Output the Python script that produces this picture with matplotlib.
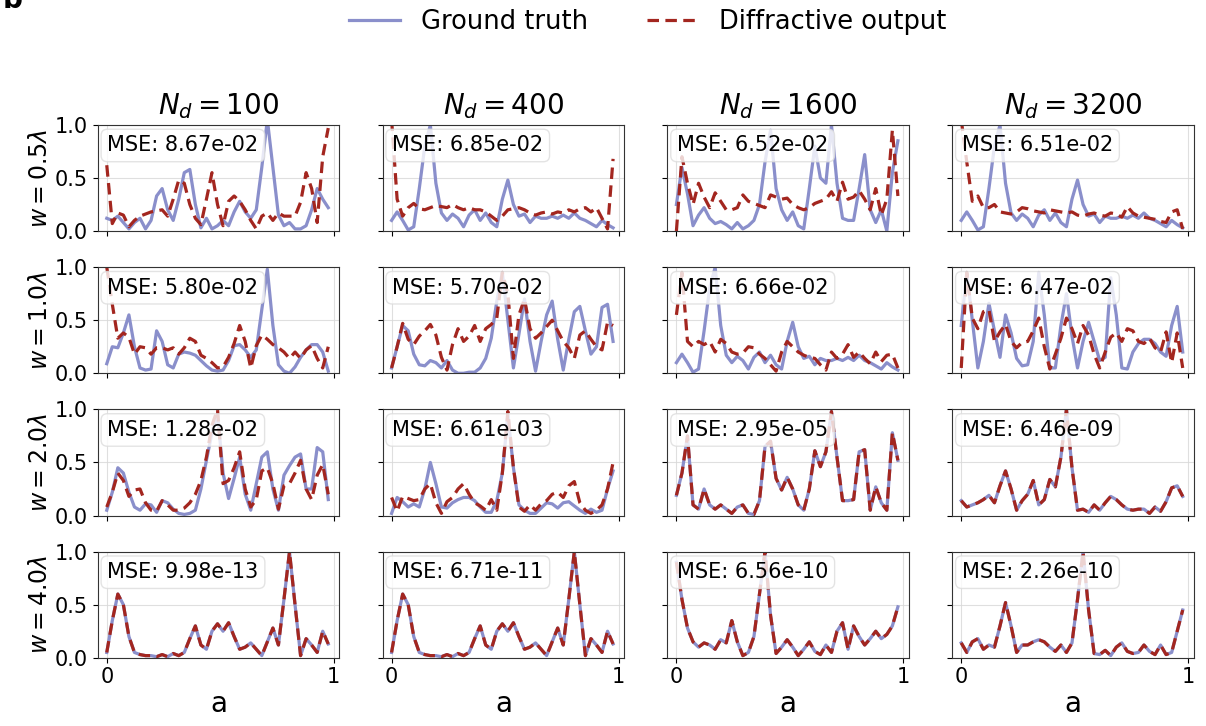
import numpy as np
import matplotlib.pyplot as plt

# position along the aperture (shared by every panel)
a = np.arange(41) / 41

n_d = [100, 400, 1600, 3200]
w_labels = ["0.5", "1.0", "2.0", "4.0"]
mse = [
    ["8.67e-02", "6.85e-02", "6.52e-02", "6.51e-02"],
    ["5.80e-02", "5.70e-02", "6.66e-02", "6.47e-02"],
    ["1.28e-02", "6.61e-03", "2.95e-05", "6.46e-09"],
    ["9.98e-13", "6.71e-11", "6.56e-10", "2.26e-10"],
]

# --- row 1 : w = 0.5 lambda ---
gt_r1c1 = [0.12, 0.10, 0.14, 0.08, 0.02, 0.08, 0.12, 0.02, 0.10, 0.33, 0.40, 0.20, 0.10, 0.30, 0.55, 0.58, 0.25,
           0.03, 0.12, 0.02, 0.05, 0.10, 0.05, 0.18, 0.28, 0.18, 0.12, 0.20, 0.60, 1.05, 0.60, 0.15, 0.05, 0.08,
           0.02, 0.02, 0.05, 0.20, 0.40, 0.30, 0.22]
out_r1c1 = [0.62, 0.07, 0.17, 0.15, 0.04, 0.10, 0.14, 0.16, 0.18, 0.19, 0.20, 0.14, 0.30, 0.48, 0.45, 0.25, 0.12,
            0.06, 0.30, 0.55, 0.25, 0.05, 0.28, 0.33, 0.28, 0.20, 0.10, 0.02, 0.14, 0.17, 0.10, 0.17, 0.14, 0.14,
            0.14, 0.27, 0.55, 0.40, 0.08, 0.70, 0.97]
gt_shared = [0.10, 0.18, 0.10, 0.01, 0.04, 0.40, 0.80, 1.00, 0.45, 0.17, 0.10, 0.16, 0.12, 0.04, 0.15, 0.20, 0.10,
             0.17, 0.08, 0.04, 0.30, 0.48, 0.25, 0.14, 0.16, 0.08, 0.14, 0.12, 0.12, 0.14, 0.12, 0.15, 0.12, 0.17,
             0.12, 0.10, 0.07, 0.04, 0.10, 0.06, 0.03]
out_r1c2 = [1.05, 0.30, 0.14, 0.22, 0.26, 0.21, 0.20, 0.22, 0.24, 0.23, 0.22, 0.25, 0.22, 0.20, 0.22, 0.20, 0.20,
            0.18, 0.14, 0.10, 0.14, 0.20, 0.21, 0.22, 0.20, 0.17, 0.15, 0.17, 0.18, 0.16, 0.18, 0.17, 0.20, 0.18,
            0.21, 0.22, 0.18, 0.22, 0.12, 0.02, 0.68]
gt_r1c3 = [0.25, 0.60, 0.35, 0.05, 0.15, 0.22, 0.12, 0.07, 0.09, 0.06, 0.02, 0.08, 0.02, 0.05, 0.10, 0.25, 0.65,
           0.95, 0.40, 0.20, 0.10, 0.18, 0.05, 0.02, 0.40, 0.80, 0.50, 0.45, 1.00, 0.45, 0.12, 0.10, 0.10, 0.40,
           0.72, 0.20, 0.08, 0.20, 0.00, 0.55, 0.85]
out_r1c3 = [0.00, 0.70, 0.45, 0.25, 0.45, 0.32, 0.22, 0.36, 0.28, 0.20, 0.20, 0.22, 0.34, 0.28, 0.26, 0.24, 0.22,
            0.34, 0.32, 0.30, 0.31, 0.25, 0.22, 0.20, 0.22, 0.26, 0.28, 0.30, 0.37, 0.28, 0.46, 0.30, 0.32, 0.38,
            0.30, 0.20, 0.40, 0.15, 0.30, 0.95, 0.33]
out_r1c4 = [1.05, 0.65, 0.28, 0.33, 0.22, 0.22, 0.25, 0.18, 0.17, 0.16, 0.18, 0.22, 0.21, 0.19, 0.18, 0.17, 0.20,
            0.19, 0.18, 0.17, 0.18, 0.15, 0.14, 0.16, 0.17, 0.15, 0.14, 0.17, 0.16, 0.13, 0.23, 0.17, 0.14, 0.13,
            0.12, 0.11, 0.09, 0.08, 0.18, 0.20, 0.02]

# --- row 2 : w = 1.0 lambda ---
gt_r2c1 = [0.09, 0.25, 0.24, 0.38, 0.55, 0.25, 0.05, 0.03, 0.04, 0.40, 0.30, 0.08, 0.05, 0.18, 0.20, 0.19, 0.17,
           0.12, 0.07, 0.03, 0.02, 0.03, 0.12, 0.26, 0.27, 0.22, 0.15, 0.22, 0.60, 0.98, 0.45, 0.08, 0.02, 0.00,
           0.06, 0.15, 0.22, 0.27, 0.27, 0.20, 0.02]
out_r2c1 = [1.00, 0.65, 0.33, 0.38, 0.34, 0.18, 0.25, 0.24, 0.18, 0.24, 0.24, 0.22, 0.24, 0.18, 0.24, 0.33, 0.30,
            0.17, 0.14, 0.10, 0.05, 0.06, 0.15, 0.28, 0.45, 0.30, 0.05, 0.26, 0.36, 0.32, 0.27, 0.24, 0.20, 0.14,
            0.20, 0.14, 0.22, 0.26, 0.14, 0.05, 0.25]
gt_r2c2 = [0.05, 0.25, 0.45, 0.40, 0.18, 0.08, 0.07, 0.12, 0.10, 0.05, 0.12, 0.03, 0.00, 0.00, 0.01, 0.01, 0.05,
           0.14, 0.33, 0.68, 0.95, 0.50, 0.05, 0.37, 0.70, 0.30, 0.02, 0.30, 0.55, 0.68, 0.32, 0.03, 0.32, 0.58,
           0.63, 0.40, 0.18, 0.25, 0.62, 0.65, 0.30]
out_r2c2 = [0.05, 0.25, 0.47, 0.32, 0.27, 0.35, 0.40, 0.46, 0.36, 0.15, 0.03, 0.27, 0.42, 0.30, 0.35, 0.45, 0.30,
            0.42, 0.46, 0.52, 0.95, 0.75, 0.14, 0.55, 0.70, 0.42, 0.33, 0.38, 0.44, 0.50, 0.40, 0.30, 0.24, 0.14,
            0.36, 0.40, 0.32, 0.25, 0.22, 0.48, 0.45]
out_r2c3 = [0.55, 0.95, 0.30, 0.25, 0.30, 0.27, 0.30, 0.20, 0.32, 0.28, 0.20, 0.18, 0.19, 0.25, 0.24, 0.18, 0.14,
            0.08, 0.02, 0.20, 0.30, 0.25, 0.20, 0.17, 0.15, 0.14, 0.08, 0.03, 0.20, 0.14, 0.18, 0.27, 0.15, 0.20,
            0.14, 0.09, 0.20, 0.11, 0.17, 0.18, 0.05]
gt_r2c4 = [0.45, 0.95, 0.50, 0.05, 0.30, 0.66, 0.40, 0.15, 0.55, 0.38, 0.14, 0.07, 0.08, 0.30, 0.95, 0.55, 0.05,
           0.05, 0.45, 0.75, 0.35, 0.05, 0.30, 0.48, 0.30, 0.12, 0.15, 0.90, 0.55, 0.05, 0.04, 0.20, 0.28, 0.32,
           0.32, 0.28, 0.20, 0.16, 0.45, 0.63, 0.20]
out_r2c4 = [0.05, 0.95, 0.52, 0.42, 0.58, 0.60, 0.30, 0.39, 0.46, 0.30, 0.24, 0.29, 0.30, 0.40, 0.52, 0.25, 0.04,
            0.18, 0.33, 0.52, 0.42, 0.28, 0.45, 0.36, 0.18, 0.05, 0.20, 0.34, 0.38, 0.30, 0.42, 0.40, 0.30, 0.28,
            0.33, 0.24, 0.20, 0.39, 0.10, 0.38, 0.05]

# --- row 3 : w = 2.0 lambda ---
gt_r3c1 = [0.05, 0.22, 0.45, 0.40, 0.22, 0.08, 0.05, 0.11, 0.10, 0.03, 0.14, 0.12, 0.06, 0.02, 0.01, 0.02, 0.05,
           0.25, 0.52, 0.78, 0.96, 0.40, 0.16, 0.35, 0.55, 0.20, 0.05, 0.30, 0.55, 0.60, 0.25, 0.05, 0.38, 0.47,
           0.55, 0.58, 0.25, 0.25, 0.64, 0.60, 0.15]
out_r3c1 = [0.08, 0.22, 0.40, 0.33, 0.18, 0.24, 0.25, 0.12, 0.05, 0.04, 0.14, 0.10, 0.05, 0.05, 0.07, 0.12, 0.20,
            0.33, 0.55, 0.85, 1.00, 0.30, 0.33, 0.45, 0.60, 0.25, 0.08, 0.15, 0.42, 0.45, 0.30, 0.06, 0.28, 0.30,
            0.40, 0.52, 0.25, 0.15, 0.38, 0.48, 0.20]
gt_r3c2 = [0.02, 0.17, 0.13, 0.08, 0.11, 0.08, 0.25, 0.50, 0.30, 0.08, 0.07, 0.12, 0.15, 0.17, 0.17, 0.14, 0.08,
           0.03, 0.03, 0.14, 0.40, 0.95, 0.45, 0.10, 0.05, 0.02, 0.02, 0.07, 0.12, 0.11, 0.07, 0.12, 0.13, 0.09,
           0.05, 0.02, 0.06, 0.03, 0.05, 0.25, 0.42]
out_r3c2 = [0.17, 0.04, 0.18, 0.16, 0.14, 0.15, 0.25, 0.30, 0.12, 0.02, 0.13, 0.17, 0.25, 0.30, 0.20, 0.12, 0.09,
            0.05, 0.15, 0.05, 0.40, 0.98, 0.45, 0.08, 0.04, 0.10, 0.05, 0.11, 0.14, 0.20, 0.22, 0.17, 0.28, 0.32,
            0.12, 0.05, 0.02, 0.05, 0.10, 0.25, 0.50]
gt_r3c3 = [0.19, 0.40, 0.75, 0.10, 0.06, 0.25, 0.10, 0.06, 0.10, 0.06, 0.02, 0.08, 0.10, 0.02, 0.01, 0.14, 0.65,
           0.70, 0.35, 0.24, 0.36, 0.25, 0.10, 0.05, 0.25, 0.61, 0.46, 0.60, 0.98, 0.55, 0.14, 0.14, 0.15, 0.60,
           0.62, 0.05, 0.27, 0.12, 0.05, 0.78, 0.52]
gt_r3c4 = [0.14, 0.08, 0.10, 0.12, 0.15, 0.19, 0.12, 0.28, 0.42, 0.25, 0.05, 0.14, 0.20, 0.33, 0.10, 0.15, 0.34,
           0.27, 0.55, 1.00, 0.45, 0.05, 0.06, 0.03, 0.10, 0.05, 0.12, 0.18, 0.15, 0.10, 0.06, 0.05, 0.06, 0.06,
           0.02, 0.08, 0.04, 0.13, 0.26, 0.28, 0.18]

# --- row 4 : w = 4.0 lambda ---
gt_r4c1 = [0.05, 0.35, 0.60, 0.50, 0.20, 0.05, 0.03, 0.02, 0.02, 0.01, 0.03, 0.01, 0.04, 0.02, 0.05, 0.18, 0.30,
           0.12, 0.08, 0.25, 0.32, 0.25, 0.33, 0.20, 0.08, 0.10, 0.14, 0.08, 0.02, 0.15, 0.28, 0.12, 0.55, 1.00,
           0.50, 0.02, 0.18, 0.12, 0.05, 0.25, 0.13]
gt_r4c3 = [0.90, 0.55, 0.28, 0.15, 0.10, 0.14, 0.12, 0.08, 0.17, 0.14, 0.35, 0.15, 0.02, 0.05, 0.20, 0.60, 1.00,
           0.40, 0.04, 0.10, 0.17, 0.10, 0.02, 0.08, 0.15, 0.06, 0.03, 0.12, 0.05, 0.25, 0.33, 0.08, 0.30, 0.20,
           0.12, 0.18, 0.25, 0.18, 0.22, 0.30, 0.48]
gt_r4c4 = [0.14, 0.05, 0.15, 0.18, 0.08, 0.12, 0.10, 0.30, 0.52, 0.30, 0.05, 0.12, 0.12, 0.15, 0.17, 0.15, 0.10,
           0.06, 0.12, 0.05, 0.14, 0.55, 1.00, 0.45, 0.04, 0.03, 0.07, 0.02, 0.10, 0.14, 0.06, 0.04, 0.05, 0.12,
           0.06, 0.03, 0.12, 0.03, 0.05, 0.25, 0.45]

# (ground truth, diffractive output) per panel; converged panels overlap exactly
panels = [
    [(gt_r1c1, out_r1c1), (gt_shared, out_r1c2), (gt_r1c3, out_r1c3), (gt_shared, out_r1c4)],
    [(gt_r2c1, out_r2c1), (gt_r2c2, out_r2c2), (gt_shared, out_r2c3), (gt_r2c4, out_r2c4)],
    [(gt_r3c1, out_r3c1), (gt_r3c2, out_r3c2), (gt_r3c3, gt_r3c3), (gt_r3c4, gt_r3c4)],
    [(gt_r4c1, gt_r4c1), (gt_r4c1, gt_r4c1), (gt_r4c3, gt_r4c3), (gt_r4c4, gt_r4c4)],
]

gt_color = "#8a8fcb"
out_color = "#a3261f"

fig, axes = plt.subplots(4, 4, figsize=(12.06, 7.26), dpi=100, sharex=True, sharey=True)
fig.subplots_adjust(left=0.081, right=0.99, top=0.828, bottom=0.094, wspace=0.178, hspace=0.34)

for r in range(4):
    for c in range(4):
        ax = axes[r, c]
        gt, out = panels[r][c]
        ax.plot(a, gt, color=gt_color, lw=2.3, label="Ground truth")
        ax.plot(a, out, color=out_color, lw=2.3, ls=(0, (3.6, 2.0)), label="Diffractive output")
        ax.set_xlim(-0.04, 1.025)
        ax.set_ylim(0, 1)
        ax.set_xticks([0, 1])
        ax.set_yticks([0, 0.5, 1.0])
        ax.grid(True, color="#d8d8d8", lw=0.8, alpha=0.8)
        ax.tick_params(labelsize=15)
        for s in ax.spines.values():
            s.set_color("#333333")
        ax.text(0.04, 0.9, "MSE: " + mse[r][c], transform=ax.transAxes, fontsize=15,
                va="top", ha="left",
                bbox=dict(boxstyle="round,pad=0.3", facecolor="white", edgecolor="#dddddd", alpha=0.8))
        if r == 0:
            ax.set_title(r"$N_d = %d$" % n_d[c], fontsize=20, pad=8)
        if c == 0:
            ax.set_ylabel(r"$w = %s\lambda$" % w_labels[r], fontsize=17, labelpad=2)
        if r == 3:
            ax.set_xlabel("a", fontsize=20, labelpad=2)

handles, labels = axes[0, 0].get_legend_handles_labels()
fig.legend(handles, labels, loc="upper center", ncol=2, frameon=False, fontsize=18.5,
           bbox_to_anchor=(0.537, 1.02), handlelength=2.0, columnspacing=2.3)
fig.text(0.002, 1.0, "b", fontsize=20, fontweight="bold", va="center", ha="left")

fig.savefig("out.png", dpi=100)
